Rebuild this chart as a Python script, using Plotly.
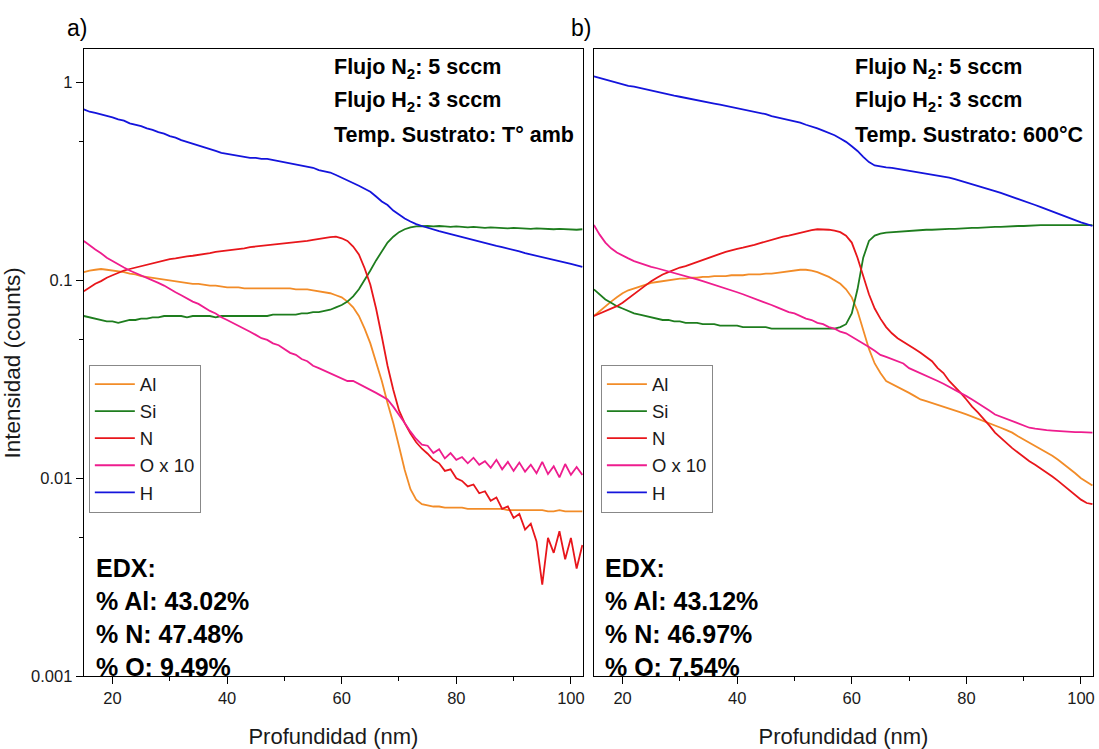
import plotly.graph_objects as go

# Depth axis (nm), 1 nm steps
depth = list(range(15, 103))

# ---- Panel a: substrate at room temperature ----
a_al = [.110, .112, .113, .114, .113, .112, .111, .110, .108, .107, .105, .104, .103, .102, .101, .100,
        .099, .098, .097, .096, .096, .095, .094, .094, .093, .092, .092, .092, .091, .091, .091, .091,
        .091, .091, .091, .091, .091, .090, .090, .090, .089, .088, .087, .086, .084, .082, .078, .073,
        .066, .057, .048, .039, .031, .024, .019, .0145, .011, .0088, .0078, .0074, .0073, .0072, .0072,
        .0071, .0071, .0071, .0071, .0070, .0070, .0070, .0070, .0070, .0070, .0070, .0069, .0069,
        .0069, .0069, .0069, .0069, .0069, .0068, .0068, .0069, .0068, .0068, .0068, .0068]
a_si = [.066, .065, .064, .063, .062, .062, .061, .062, .063, .063, .064, .064, .065, .065, .066, .066,
        .066, .066, .065, .066, .066, .066, .066, .065, .066, .066, .066, .066, .066, .066, .066, .066,
        .066, .067, .067, .067, .067, .067, .068, .068, .069, .069, .070, .071, .073, .075, .078, .083,
        .090, .100, .112, .126, .140, .155, .166, .175, .181, .185, .187, .188, .188, .187, .188, .187,
        .186, .187, .186, .185, .186, .185, .184, .185, .184, .184, .183, .184, .183, .183, .182, .183,
        .182, .182, .181, .182, .181, .181, .180, .181]
a_n = [.088, .092, .096, .099, .103, .106, .109, .112, .114, .116, .118, .120, .122, .124, .126, .128,
       .129, .131, .132, .133, .134, .136, .137, .139, .140, .141, .143, .144, .145, .147, .148, .149,
       .150, .151, .152, .153, .154, .155, .157, .158, .160, .162, .164, .165, .166, .163, .158, .148,
       .135, .115, .095, .072, .052, .037, .028, .022, .019, .0168, .0152, .0141, .0133, .0124, .0119,
       .0109, .0111, .0100, .0097, .0091, .0093, .0084, .0086, .0077, .0080, .0070, .0072, .0063,
       .0066, .0055, .0059, .0048, .0029, .0050, .0042, .0054, .0039, .0050, .0035, .0046]
a_o = [.158, .150, .143, .137, .130, .125, .120, .116, .112, .109, .106, .103, .100, .097, .094, .090,
       .087, .084, .081, .078, .076, .073, .070, .068, .065, .063, .061, .059, .057, .055, .053, .051,
       .050, .048, .047, .045, .043, .042, .040, .039, .037, .036, .035, .034, .033, .032, .031, .031,
       .030, .029, .028, .027, .026, .025, .023, .021, .019, .0172, .0158, .0148, .0146, .0134, .0140,
       .0126, .0134, .0124, .0128, .0119, .0127, .0117, .0122, .0113, .0124, .0111, .0121, .0109,
       .0120, .0108, .0117, .0106, .0121, .0105, .0115, .0101, .0118, .0104, .0114, .0104]
a_h = [.730, .710, .700, .690, .680, .665, .650, .640, .620, .610, .600, .585, .575, .560, .550, .535,
       .525, .510, .500, .490, .480, .470, .460, .450, .440, .435, .430, .425, .420, .415, .415, .410,
       .410, .405, .400, .395, .390, .385, .380, .375, .370, .360, .355, .350, .340, .330, .320, .310,
       .300, .290, .280, .265, .250, .240, .225, .215, .205, .198, .192, .188, .184, .180, .177, .174,
       .171, .168, .165, .162, .159, .156, .154, .151, .149, .147, .145, .142, .140, .137, .135, .133,
       .131, .129, .127, .125, .123, .121, .119, .117]

# ---- Panel b: substrate at 600 °C ----
b_al = [.066, .070, .074, .078, .082, .086, .089, .091, .093, .095, .097, .098, .099, .100, .101, .102,
        .102, .103, .103, .104, .104, .105, .105, .105, .106, .106, .106, .107, .107, .107, .108, .108,
        .109, .110, .111, .112, .113, .113, .112, .110, .107, .104, .100, .096, .090, .082, .070, .056,
        .045, .038, .034, .031, .030, .029, .028, .027, .026, .025, .0245, .024, .0235, .023, .0225,
        .022, .0215, .021, .0205, .020, .0195, .019, .0185, .018, .0175, .017, .0163, .0157, .0151,
        .0145, .0140, .0135, .0130, .0124, .0118, .0112, .0106, .0100, .0096, .0092]
b_si = [.090, .085, .080, .077, .074, .072, .070, .068, .067, .066, .065, .064, .063, .063, .062, .062,
        .061, .061, .061, .060, .060, .060, .059, .059, .059, .059, .058, .058, .058, .058, .058, .057,
        .057, .057, .057, .057, .057, .057, .057, .057, .057, .057, .057, .058, .060, .068, .090, .130,
        .158, .168, .172, .174, .175, .176, .177, .178, .178, .179, .180, .180, .181, .181, .182, .182,
        .183, .183, .184, .184, .185, .185, .186, .186, .187, .187, .188, .188, .189, .189, .190, .190,
        .190, .190, .190, .190, .190, .190, .190, .190]
b_n = [.066, .068, .070, .072, .074, .077, .081, .085, .089, .094, .099, .103, .107, .110, .113, .116,
       .118, .121, .124, .127, .130, .133, .136, .139, .142, .144, .146, .148, .151, .154, .157, .160,
       .163, .166, .168, .171, .174, .177, .179, .181, .181, .180, .178, .175, .168, .155, .130, .105,
       .085, .072, .064, .058, .054, .051, .049, .047, .045, .043, .041, .039, .036, .034, .031, .029,
       .027, .025, .023, .0215, .020, .0185, .0170, .0160, .0150, .0142, .0135, .0128, .0122, .0117,
       .0112, .0107, .0102, .0097, .0092, .0087, .0082, .0078, .0075, .0074]
b_o = [.190, .170, .155, .145, .138, .133, .129, .125, .122, .120, .117, .115, .113, .111, .109, .107,
       .105, .103, .101, .099, .097, .095, .093, .091, .089, .087, .085, .083, .081, .079, .077, .075,
       .073, .071, .069, .068, .066, .064, .063, .061, .060, .058, .057, .055, .054, .052, .050, .048,
       .046, .044, .042, .041, .040, .039, .038, .036, .035, .034, .033, .032, .031, .030, .029, .028,
       .027, .026, .025, .024, .023, .022, .021, .0205, .0200, .0195, .0190, .0185, .0180, .0178,
       .0176, .0175, .0174, .0173, .0172, .0172, .0171, .0171, .0170, .0170]
b_h = [1.07, 1.05, 1.03, 1.01, .990, .975, .960, .950, .935, .920, .905, .890, .875, .865, .855, .845,
       .835, .825, .815, .800, .790, .780, .770, .760, .750, .740, .730, .720, .710, .700, .690, .675,
       .665, .655, .645, .635, .625, .610, .600, .585, .570, .555, .540, .520, .500, .475, .450, .420,
       .395, .380, .375, .372, .370, .366, .362, .358, .354, .350, .346, .342, .338, .334, .330, .324,
       .318, .312, .306, .300, .294, .288, .282, .276, .270, .264, .258, .252, .246, .240, .234, .228,
       .222, .216, .210, .205, .200, .196, .192, .188]

series_names = ["Al", "Si", "N", "O x 10", "H"]
series_colors = ["#F28C28", "#1E7D1E", "#E8161B", "#EE1D8E", "#1414DC"]
panel_a = [a_al, a_si, a_n, a_o, a_h]
panel_b = [b_al, b_si, b_n, b_o, b_h]

FONT = "Liberation Sans, Arial, sans-serif"
fig = go.Figure()

for vals, name, col in zip(panel_a, series_names, series_colors):
    fig.add_trace(go.Scatter(x=depth, y=vals, name=name, mode="lines",
                             line=dict(color=col, width=1.8),
                             xaxis="x", yaxis="y", legend="legend"))
for vals, name, col in zip(panel_b, series_names, series_colors):
    fig.add_trace(go.Scatter(x=depth, y=vals, name=name, mode="lines",
                             line=dict(color=col, width=1.8),
                             xaxis="x2", yaxis="y2", legend="legend2"))

W, H = 1099, 749
ydom = [1 - 684.5 / H, 1 - 50 / H]
xdom_a = [84 / W, 584 / W]
xdom_b = [595 / W, 1095 / W]

xaxis_common = dict(
    range=[15, 102.1], showline=True, linecolor="black", linewidth=1.3, mirror=True,
    ticks="outside", ticklen=7, tickwidth=1.2, tickcolor="black",
    tickvals=[20, 40, 60, 80, 100], showgrid=False, zeroline=False,
    tickfont=dict(family=FONT, size=16.5, color="#1a1a1a"),
    minor=dict(tickvals=[30, 50, 70, 90], ticks="outside", ticklen=4, tickwidth=1.2, tickcolor="black"),
    title=dict(text="Profundidad (nm)", font=dict(family=FONT, size=22, color="#1a1a1a"), standoff=22),
)
yaxis_common = dict(
    type="log", range=[-3, 0.166], showline=True, linecolor="black", linewidth=1.3, mirror=True,
    showgrid=False, zeroline=False, domain=ydom,
)

legend_common = dict(
    y=1 - 369 / H, xanchor="left", yanchor="top",
    bgcolor="white", bordercolor="#888", borderwidth=1,
    font=dict(family=FONT, size=18.5, color="#1a1a1a"),
    itemwidth=40, tracegroupgap=0,
)

fig.update_layout(
    width=W, height=H, margin=dict(l=0, r=0, t=0, b=0),
    paper_bgcolor="white", plot_bgcolor="white",
    xaxis=dict(domain=xdom_a, anchor="y", **xaxis_common),
    xaxis2=dict(domain=xdom_b, anchor="y2", **xaxis_common),
    yaxis=dict(anchor="x", ticks="outside", ticklen=7, tickwidth=1.2, tickcolor="black",
               tickvals=[0.001, 0.01, 0.1, 1], ticktext=["0.001", "0.01", "0.1", "1"],
               tickfont=dict(family=FONT, size=16.5, color="#1a1a1a"),
               minor=dict(tickvals=[0.005, 0.05, 0.5], ticks="outside", ticklen=4,
                          tickwidth=1.2, tickcolor="black"),
               title=dict(text="Intensidad (counts)", font=dict(family=FONT, size=22.5, color="#1a1a1a"),
                          standoff=8),
               **yaxis_common),
    yaxis2=dict(anchor="x2", showticklabels=False, ticks="", **yaxis_common),
    legend=dict(x=89 / W, **legend_common),
    legend2=dict(x=602 / W, **legend_common),
)

annotations = []
def text(x_px, y_px, s, size, bold=False, anchor="left"):
    annotations.append(dict(
        x=x_px / W, y=1 - y_px / H, xref="paper", yref="paper", showarrow=False,
        xanchor=anchor, yanchor="middle", align="left",
        text=f"<b>{s}</b>" if bold else s,
        font=dict(family=FONT, size=size, color="black")))

text(65, 28, "a)", 23)
text(570, 28, "b)", 23)

cond_a = ["Flujo N<sub>2</sub>: 5 sccm", "Flujo H<sub>2</sub>: 3 sccm", "Temp. Sustrato: T° amb"]
cond_b = ["Flujo N<sub>2</sub>: 5 sccm", "Flujo H<sub>2</sub>: 3 sccm", "Temp. Sustrato: 600°C"]
for i, (sa, sb) in enumerate(zip(cond_a, cond_b)):
    text(333, 69 + i * 34, sa, 21.5, bold=True)
    text(855, 69 + i * 34, sb, 21.5, bold=True)

edx_a = ["EDX:", "% Al: 43.02%", "% N: 47.48%", "% O: 9.49%"]
edx_b = ["EDX:", "% Al: 43.12%", "% N: 46.97%", "% O: 7.54%"]
for i, (sa, sb) in enumerate(zip(edx_a, edx_b)):
    text(94, 575 + i * 33.5, sa, 25, bold=True)
    text(604, 575 + i * 33.5, sb, 25, bold=True)

fig.update_layout(annotations=annotations)
fig.write_html("out.html")
